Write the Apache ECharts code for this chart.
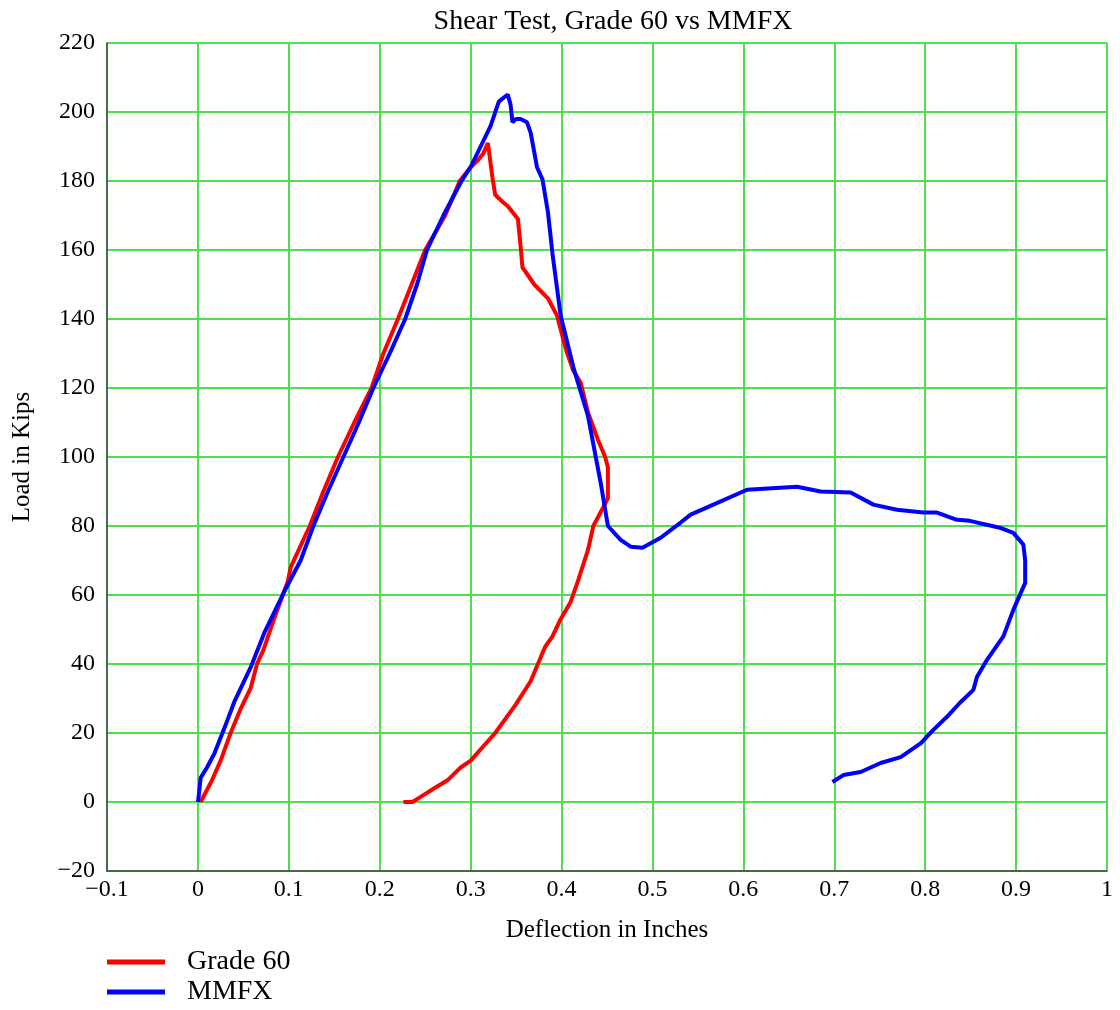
<!DOCTYPE html>
<html>
<head>
<meta charset="utf-8">
<script src="https://cdn.jsdelivr.net/npm/echarts@6/dist/echarts.min.js"></script>
<style>
html,body{margin:0;padding:0;background:#fff;}
#chart{width:1120px;height:1010px;}
</style>
</head>
<body>
<div id="chart"></div>
<script>
const titleText = "Shear Test, Grade 60 vs MMFX";
const xAxisName = "Deflection in Inches";
const yAxisName = "Load in Kips";
const seriesNames = ["Grade 60", "MMFX"];

const grade60X = [0.003,0.015,0.025,0.036,0.047,0.058,0.065,0.072,0.085,0.099,0.102,0.123,0.138,0.154,0.172,0.191,0.204,0.22,0.235,0.25,0.272,0.288,0.3,0.308,0.314,0.319,0.324,0.327,0.335,0.341,0.352,0.355,0.357,0.37,0.385,0.395,0.405,0.413,0.421,0.429,0.44,0.448,0.451,0.451,0.443,0.435,0.429,0.418,0.41,0.399,0.39,0.382,0.366,0.349,0.327,0.3,0.289,0.275,0.26,0.245,0.236,0.226];
const grade60Y = [0,6,12,20,27,33,40,44,54,64,68,80,90,100,110,120,130,140,150,160,170,180,184,186,188,191,181,176,174,172.7,169,161,155,150,146,141,131,125,121.6,113,105,100,97,88,84,80,73,64,58,53,48,45,35,28,20,12,10,6.4,4,1.5,0,0];

const mmfxX = [0,0.001,0.003,0.01,0.018,0.03,0.04,0.058,0.073,0.095,0.113,0.127,0.143,0.16,0.177,0.193,0.211,0.228,0.241,0.252,0.27,0.29,0.3,0.311,0.322,0.331,0.338,0.341,0.344,0.346,0.35,0.355,0.362,0.366,0.373,0.379,0.385,0.39,0.399,0.413,0.429,0.443,0.451,0.465,0.476,0.489,0.509,0.531,0.542,0.567,0.604,0.659,0.685,0.718,0.743,0.769,0.798,0.813,0.835,0.849,0.882,0.897,0.908,0.91,0.91,0.897,0.886,0.868,0.857,0.853,0.838,0.824,0.809,0.795,0.773,0.751,0.729,0.71,0.698];
const mmfxY = [0,2,7,10,14,22,29,39,49,61,70,80,90,100,110,120,130,140,150,160,170,180,184,190,196,203,204.5,205,202,197,198,198,197,194,184,180.5,171,159,141,126,112,92.6,80,76,74,73.7,76.6,81,83.3,86.2,90.5,91.4,90,89.7,86.2,84.7,83.9,83.9,81.8,81.5,79.5,78,74.6,70,63.5,55.7,48,41.2,36.3,32.5,28.7,24.7,20.9,17,13,11.3,8.7,7.8,5.8];

const xTickMin = -0.1, xTickMax = 1, xTickStep = 0.1;
const yTickMin = -20, yTickMax = 220, yTickStep = 20;

function pairs(xs, ys){ return xs.map((x,i)=>[x, ys[i]]); }

const font = "'Liberation Serif','Times New Roman',serif";
const chart = echarts.init(document.getElementById('chart'), null, {renderer:'canvas'});
const fmt = v => {
  const r = Math.round(v*1000)/1000;
  return String(r).replace('-', '\u2212');
};
const legendBase = {
  orient:'vertical', left:107, padding:0, itemWidth:58, itemHeight:5,
  icon:'rect',
  textStyle:{fontFamily:font, fontSize:28, color:'#000', padding:[0,0,0,17]}
};
chart.setOption({
  animation:false,
  backgroundColor:'#fff',
  title:{
    text:titleText, left:608, textAlign:'center', top:3,
    textStyle:{fontFamily:font, fontSize:28, fontWeight:'normal', color:'#000'}
  },
  grid:{left:107, top:43, width:1000, height:828, show:true, borderColor:'#444', borderWidth:1, backgroundColor:'transparent'},
  legend:[
    Object.assign({}, legendBase, {top:948, data:[{name:seriesNames[0]}]}),
    Object.assign({}, legendBase, {top:978, data:[{name:seriesNames[1]}]})
  ],
  xAxis:{
    type:'value', min:xTickMin, max:xTickMax, interval:xTickStep,
    name:xAxisName, nameLocation:'middle', nameGap:47,
    nameTextStyle:{fontFamily:font, fontSize:25, color:'#000'},
    axisLine:{show:true, onZero:false, lineStyle:{color:'#444', width:1.5}},
    axisTick:{show:false},
    axisLabel:{fontFamily:font, fontSize:24, color:'#000', margin:7, formatter:fmt},
    splitLine:{show:true, lineStyle:{color:'#4ddf4d', width:2}}
  },
  yAxis:{
    type:'value', min:yTickMin, max:yTickMax, interval:yTickStep,
    name:yAxisName, nameLocation:'middle', nameGap:72,
    nameTextStyle:{fontFamily:font, fontSize:25, color:'#000'},
    axisLine:{show:true, onZero:false, lineStyle:{color:'#444', width:1.5}},
    axisTick:{show:false},
    axisLabel:{fontFamily:font, fontSize:24, color:'#000', margin:12, formatter:fmt},
    splitLine:{show:true, lineStyle:{color:'#4ddf4d', width:2}}
  },
  series:[
    {name:seriesNames[0], type:'line', data:pairs(grade60X, grade60Y), showSymbol:false, symbol:'none',
     lineStyle:{color:'#ff0000', width:4}, itemStyle:{color:'#ff0000'}, z:2},
    {name:seriesNames[1], type:'line', data:pairs(mmfxX, mmfxY), showSymbol:false, symbol:'none',
     lineStyle:{color:'#0000ff', width:4}, itemStyle:{color:'#0000ff'}, z:3}
  ]
});
</script>
</body>
</html>
